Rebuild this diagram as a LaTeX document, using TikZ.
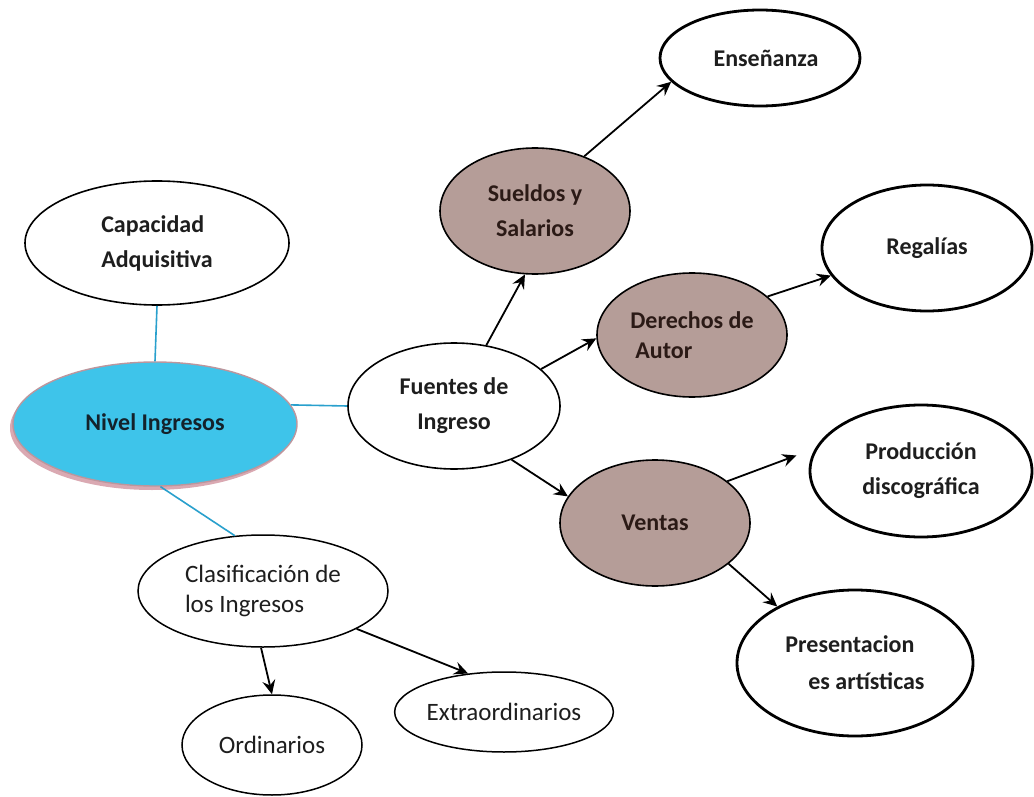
\documentclass[tikz,border=0pt]{standalone}
\usepackage{fontspec}
\setmainfont{Carlito}
\usetikzlibrary{shapes.geometric,arrows.meta,shadows}
\definecolor{cyanfill}{RGB}{62,196,234}
\definecolor{cyanline}{RGB}{41,160,205}
\definecolor{brownfill}{RGB}{181,157,152}
\definecolor{browntext}{RGB}{43,26,22}
\definecolor{darktext}{RGB}{30,30,30}
\definecolor{pinkshadow}{RGB}{214,160,170}
\tikzset{
  oval/.style={ellipse, draw=black, inner sep=0pt, font=\bfseries\fontsize{24}{35}\selectfont, text=darktext},
  thick oval/.style={oval, line width=2.8pt},
  thin oval/.style={oval, line width=1.6pt},
  brown oval/.style={oval, line width=1.6pt, fill=brownfill, text=browntext},
  plain oval/.style={ellipse, draw=black, inner sep=0pt, line width=1.5pt, font=\fontsize{25}{30}\selectfont, text=darktext},
  arr/.style={line width=1.8pt, -{Stealth[length=14pt,width=13pt,inset=5pt]}},
  link/.style={line width=1.6pt, draw=cyanline}
}
\begin{document}
\begin{tikzpicture}[x=1pt,y=-1pt]
\path[use as bounding box, fill=white] (0,0) rectangle (1034,797);

\node[thick oval, minimum width=200pt, minimum height=96pt] (ens) at (760,58) {\hspace*{12pt}Enseñanza};
\node[thin oval, minimum width=264pt, minimum height=124pt, align=left] (cap) at (157,243) {Capacidad\\Adquisitiva};
\node[brown oval, minimum width=190pt, minimum height=126pt, align=center] (sue) at (535,211) {Sueldos y\\Salarios};
\node[thick oval, minimum width=210pt, minimum height=126pt] (reg) at (927,248) {Regalías};
\node[brown oval, minimum width=190pt, minimum height=124pt, align=left, font=\bfseries\fontsize{24}{30}\selectfont] (der) at (692,335) {Derechos de\\\hspace*{5pt}Autor};
\node[thin oval, minimum width=212pt, minimum height=126pt, align=center] (fue) at (454,406) {Fuentes de\\Ingreso};
\node[oval, line width=1.4pt, draw=pinkshadow!70!gray, fill=cyanfill, text={rgb,255:red,20;green,34;blue,43},
      drop shadow={fill=pinkshadow, shadow xshift=-3pt, shadow yshift=-4pt, opacity=0.9},
      minimum width=284pt, minimum height=124pt] (niv) at (155,424) {Nivel Ingresos};
\node[brown oval, minimum width=190pt, minimum height=126pt] (ven) at (655,523) {Ventas};
\node[thick oval, minimum width=222pt, minimum height=132pt, align=center] (pro) at (921,471) {Producción\\discográfica};
\node[thick oval, minimum width=236pt, minimum height=146pt, align=left, font=\bfseries\fontsize{24}{37}\selectfont] (pre) at (855,663) {Presentacion\\\hspace*{23pt}es artísticas};
\node[plain oval, minimum width=250pt, minimum height=112pt, align=left] (cla) at (263,591) {Clasificación de\\los Ingresos};
\node[plain oval, minimum width=180pt, minimum height=100pt] (ord) at (272,745) {Ordinarios};
\node[plain oval, minimum width=218pt, minimum height=80pt] (ext) at (504,712) {Extraordinarios};

\draw[link] (cap.south) -- (niv.north);
\draw[link] (niv.8) -- (fue.west);
\draw[link] (niv.-85) -- (cla.117);

\draw[arr] (fue.62) -- (sue.261);
\draw[arr] (fue.23) -- (der.182);
\draw[arr] (sue.48) -- (ens.195);
\draw[arr] (der.27) -- (reg.196);
\draw[arr] (fue.-43) -- (ven.163);
\draw[arr, shorten >=20pt] (ven.30) -- (pro.168);
\draw[arr] (ven.-29) -- (pre.144);
\draw[arr] (cla.268) -- (ord.90);
\draw[arr] (cla.-22) -- (ext.133);
\end{tikzpicture}
\end{document}
